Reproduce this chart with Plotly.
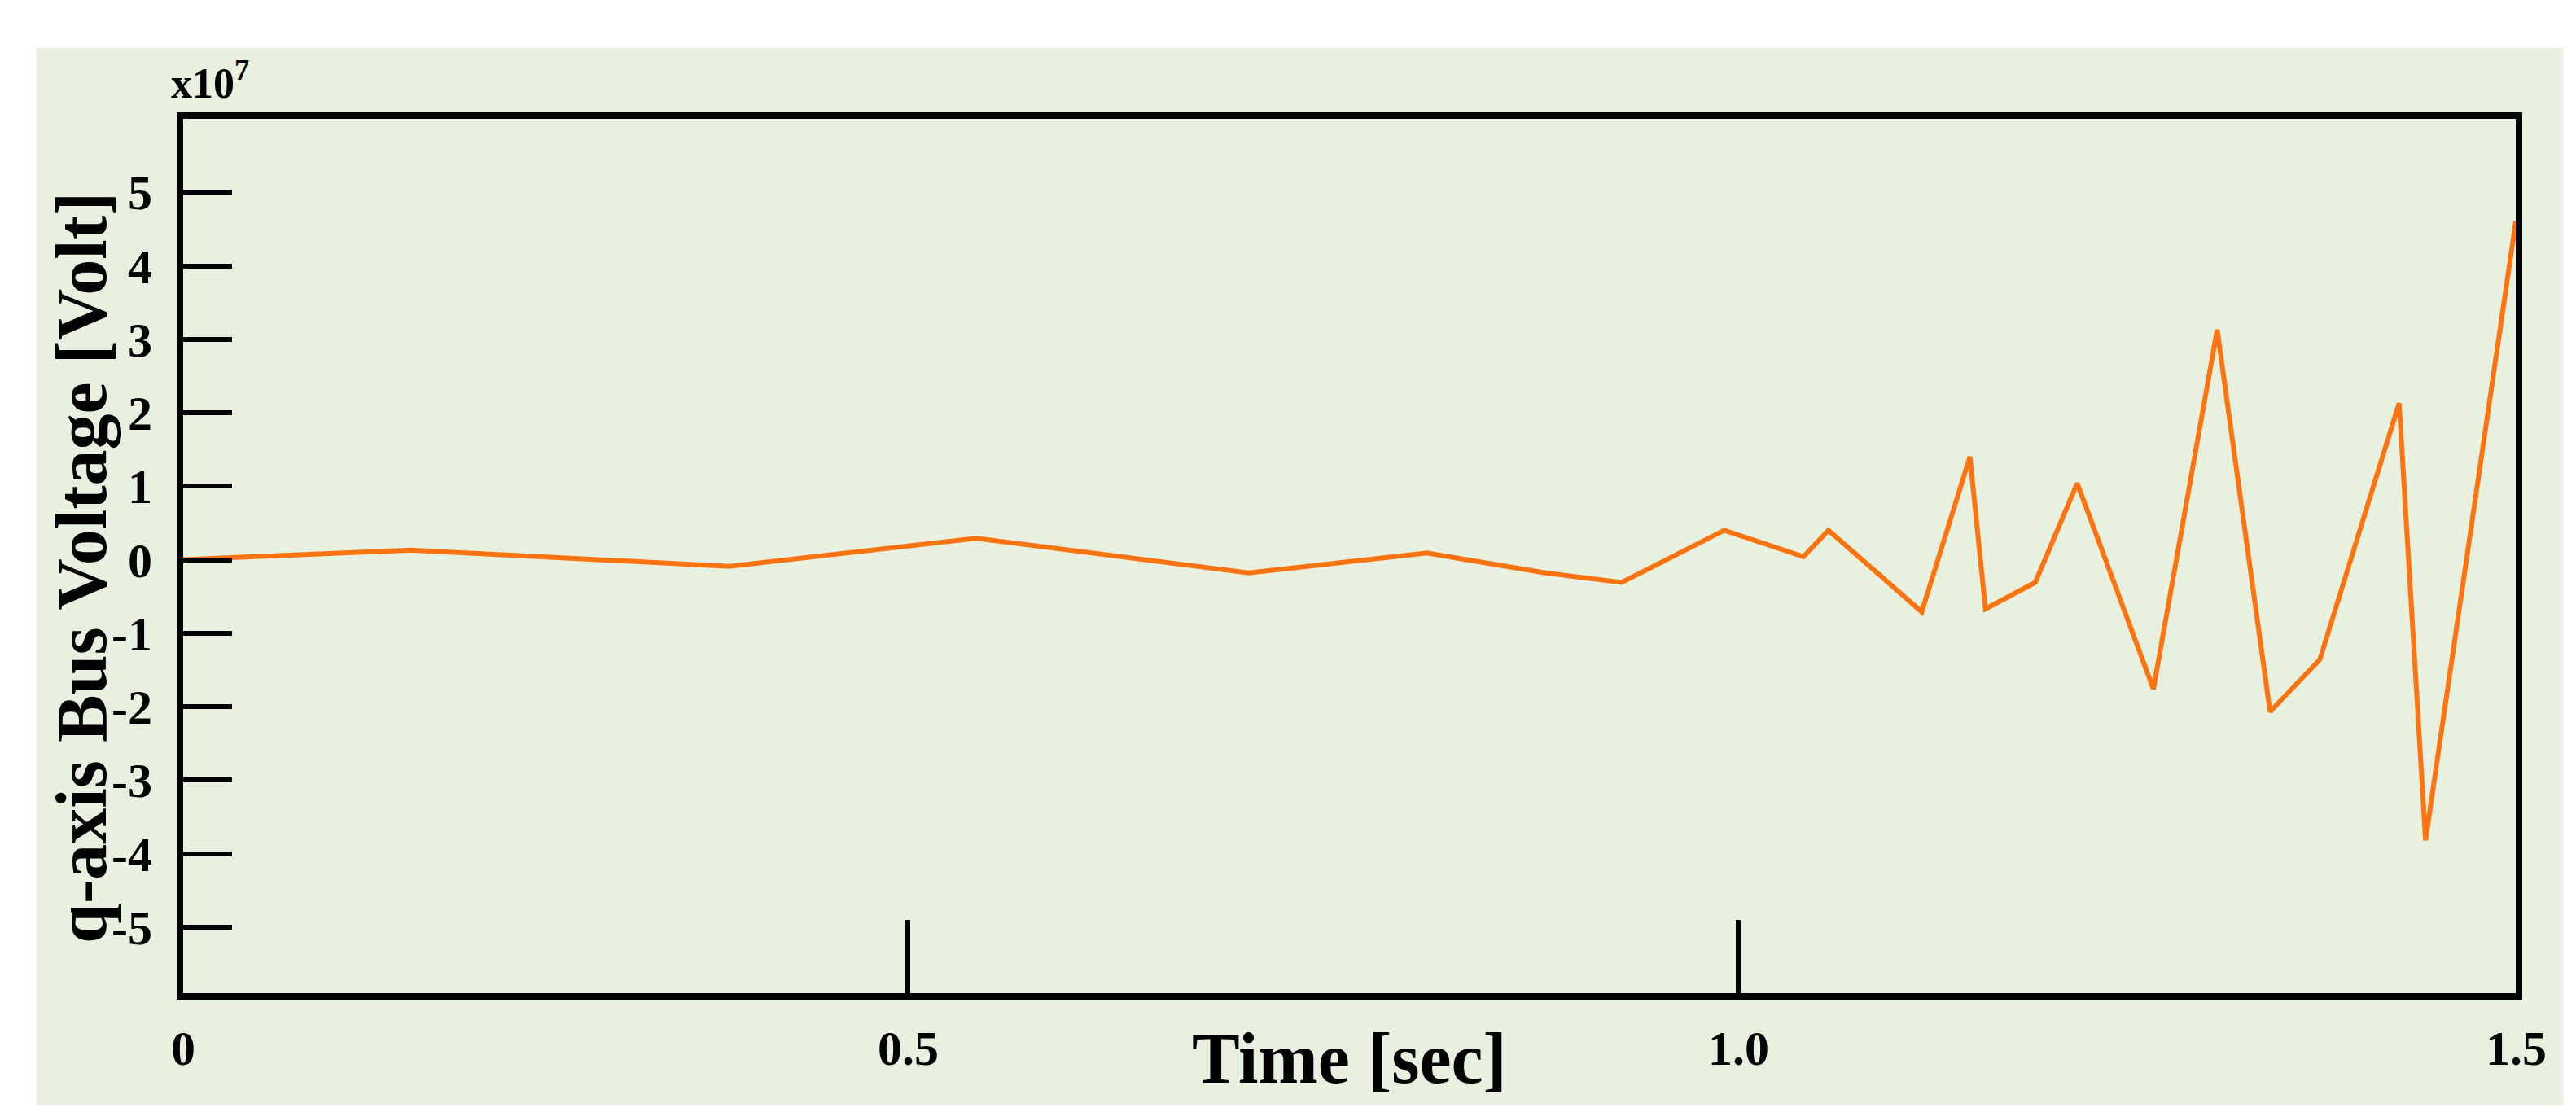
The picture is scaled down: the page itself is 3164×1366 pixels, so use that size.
import plotly.graph_objs as go

W, H = 3164, 1366
ML, MR, MT, MB = 217, 82, 138, 154

time_s = [0, 0.147, 0.351, 0.510, 0.685, 0.800, 0.876, 0.925, 0.991, 1.042, 1.058,
          1.118, 1.149, 1.159, 1.191, 1.218, 1.267, 1.308, 1.342, 1.374, 1.425, 1.442, 1.5]
vq = [0, 0.13, -0.09, 0.29, -0.18, 0.09, -0.18, -0.31, 0.40, 0.04, 0.40,
      -0.71, 1.40, -0.67, -0.31, 1.04, -1.76, 3.13, -2.07, -1.36, 2.13, -3.82, 4.6]

y_ticks = [-5, -4, -3, -2, -1, 0, 1, 2, 3, 4, 5]
y_labels = ["-5", "-4", "-3", "-2", "-1", "0", "1", "2", "3", "4", "5"]
x_tick_pos = [0.466, 1.0]
x_label_pos = [0, 0.466, 1.0, 1.5]
x_labels = ["0", "0.5", "1.0", "1.5"]

font = "Liberation Serif"
green = "#e8f0df"

fig = go.Figure()
fig.add_trace(go.Scatter(x=time_s, y=vq, mode="lines",
                         line=dict(color="#ff7410", width=6)))

pw = W - ML - MR
ph = H - MT - MB
def px_x(p):
    return (p - ML) / pw
def px_y(p):
    return (H - MB - p) / ph

fig.add_shape(type="rect", xref="paper", yref="paper", layer="below",
              x0=px_x(37), x1=px_x(3140), y0=px_y(1350), y1=px_y(51),
              fillcolor=green, line=dict(width=0))

for xv, lab in zip(x_label_pos, x_labels):
    fig.add_annotation(x=xv, y=px_y(1280), xref="x", yref="paper", text="<b>%s</b>" % lab,
                       xanchor="center", yanchor="middle",
                       showarrow=False, font=dict(family=font, size=60, color="black"))
fig.add_annotation(x=0.5, y=px_y(1292), xref="paper", yref="paper", text="<b>Time [sec]</b>",
                   xanchor="center", yanchor="middle",
                   showarrow=False, font=dict(family=font, size=88, color="black"))
fig.add_annotation(x=px_x(92), y=px_y(690), xref="paper", yref="paper", text="<b>q-axis Bus Voltage [Volt]</b>",
                   xanchor="center", yanchor="middle",
                   textangle=-90, showarrow=False, font=dict(family=font, size=88, color="black"))
fig.add_annotation(x=px_x(200), y=px_y(90), xref="paper", yref="paper", xanchor="left", yanchor="middle",
                   text="<b>x10<sup>7</sup></b>",
                   showarrow=False, font=dict(family=font, size=52, color="black"))

fig.update_layout(
    width=W, height=H, margin=dict(l=ML, r=MR, t=MT, b=MB),
    paper_bgcolor="white", plot_bgcolor=green, showlegend=False,
    xaxis=dict(range=[0, 1.5], tickvals=x_tick_pos, ticktext=["", ""], ticks="inside",
               ticklen=90, tickwidth=6, tickcolor="black", showgrid=False, zeroline=False,
               showline=True, linecolor="black", linewidth=8, mirror=True),
    yaxis=dict(range=[-5.9, 6], tickvals=y_ticks, ticktext=["<b>%s</b>" % s for s in y_labels],
               ticks="inside", ticklen=60, tickwidth=6, ticklabelstandoff=18,
               tickcolor="black", showgrid=False, zeroline=False,
               showline=True, linecolor="black", linewidth=8, mirror=True,
               tickfont=dict(family=font, size=60, color="black")),
)

fig.write_html("out.html")
